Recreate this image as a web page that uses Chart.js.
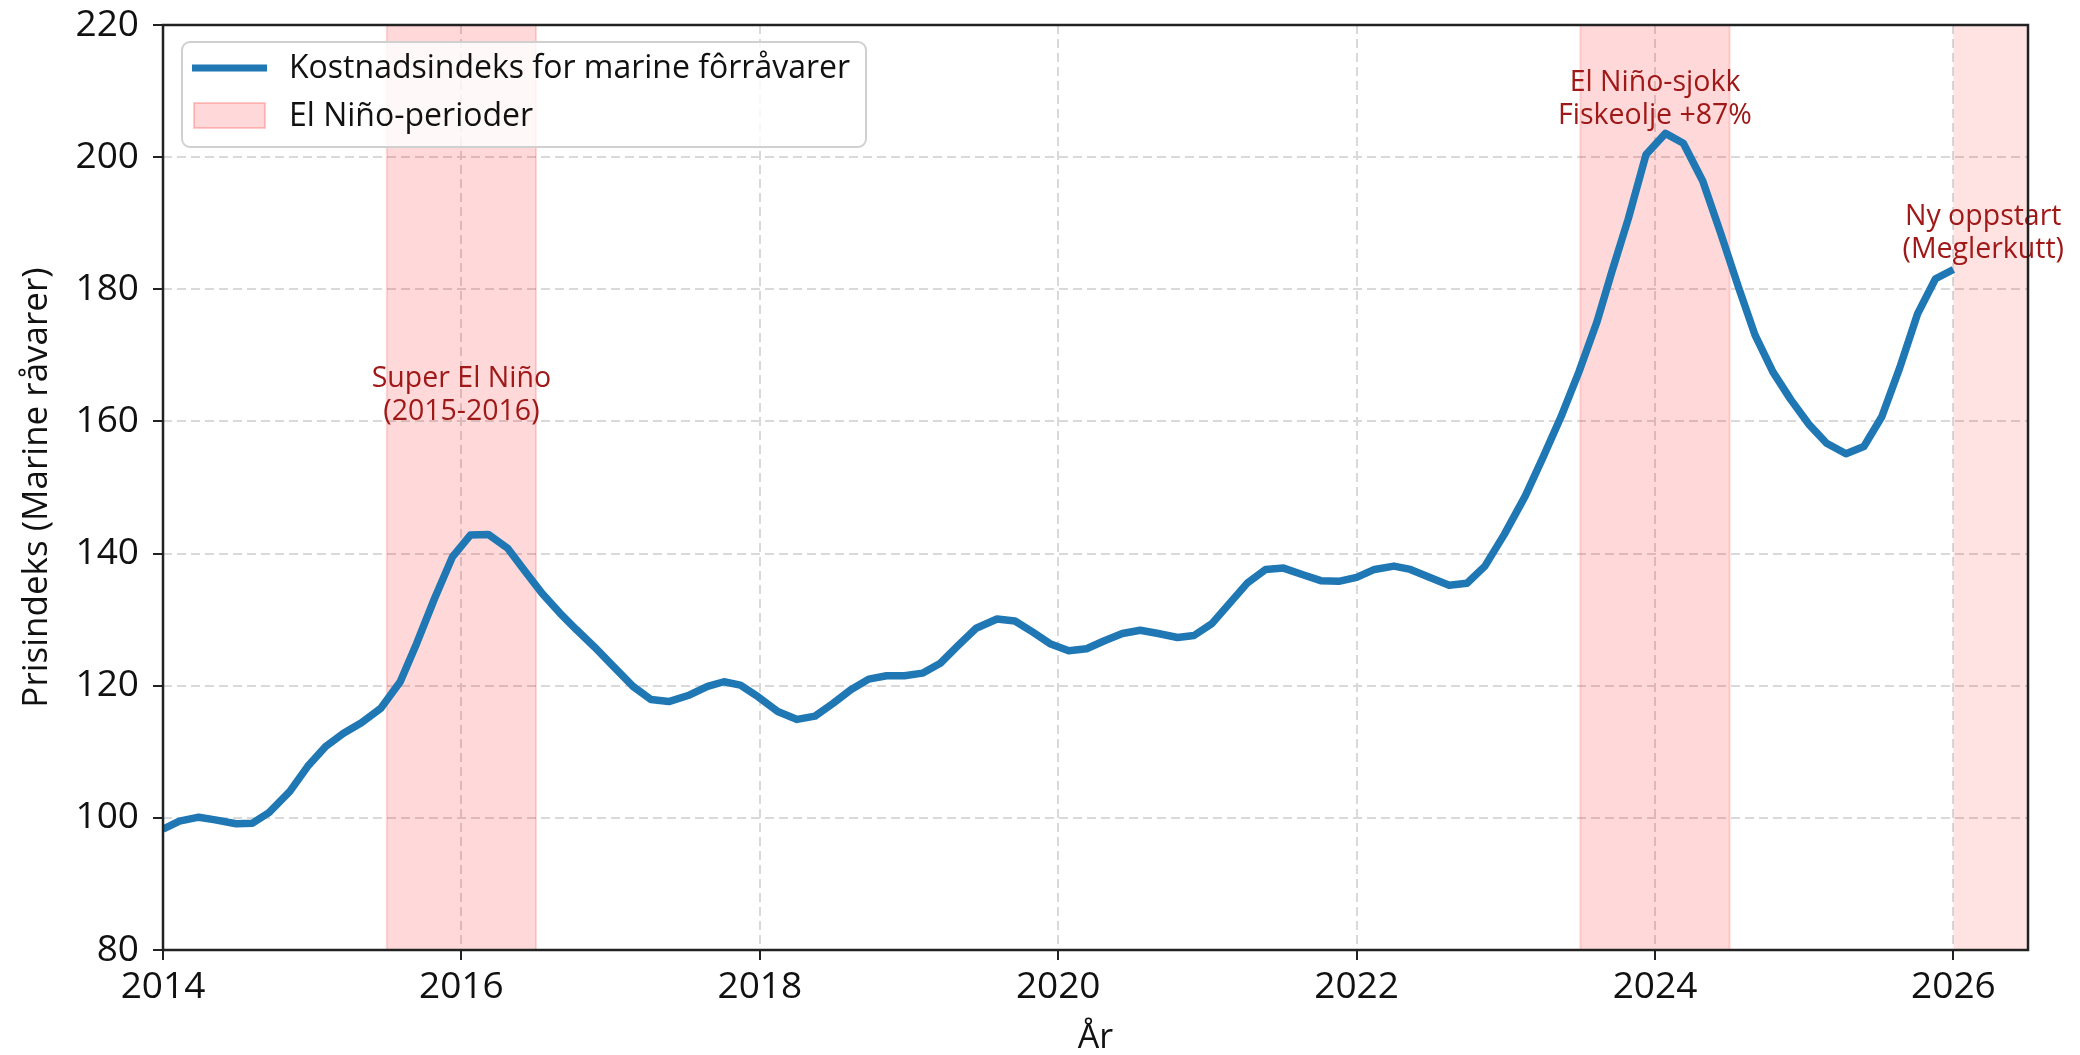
<!DOCTYPE html>
<html>
<head>
<meta charset="utf-8">
<script src="https://cdn.jsdelivr.net/npm/chart.js@4.4.1/dist/chart.umd.min.js"></script>
<style>
  html, body { margin: 0; padding: 0; background: #fff; }
</style>
</head>
<body>
<canvas id="feedChart" width="2080" height="1055"></canvas>
<script>
// Year positions of the plotted points
const years = [
  2014.00, 2014.11, 2014.24, 2014.35, 2014.49, 2014.60, 2014.71, 2014.85, 2014.97,
  2015.09, 2015.21, 2015.33, 2015.46, 2015.59, 2015.70, 2015.82, 2015.94,
  2016.06, 2016.18, 2016.31, 2016.42, 2016.54, 2016.66, 2016.77, 2016.89,
  2017.02, 2017.15, 2017.27, 2017.39, 2017.53, 2017.65, 2017.76, 2017.87, 2017.99,
  2018.12, 2018.25, 2018.37, 2018.49, 2018.61, 2018.73, 2018.85, 2018.97,
  2019.09, 2019.21, 2019.33, 2019.45, 2019.59, 2019.71, 2019.83, 2019.95,
  2020.07, 2020.19, 2020.31, 2020.43, 2020.55, 2020.67, 2020.80, 2020.91,
  2021.03, 2021.15, 2021.27, 2021.39, 2021.51, 2021.64, 2021.76, 2021.88,
  2022.00, 2022.12, 2022.25, 2022.36, 2022.50, 2022.62, 2022.74, 2022.86, 2022.99,
  2023.13, 2023.25, 2023.37, 2023.49, 2023.61, 2023.71, 2023.82, 2023.94,
  2024.07, 2024.19, 2024.32, 2024.44, 2024.56, 2024.67, 2024.79, 2024.91,
  2025.03, 2025.15, 2025.28, 2025.40, 2025.52, 2025.64, 2025.76, 2025.88, 2026.00
];

// Cost index for marine feed raw materials
const costIndex = [
  98.3, 99.5, 100.1, 99.7, 99.1, 99.2, 100.8, 104.0, 107.8,
  110.8, 112.8, 114.4, 116.6, 120.6, 126.4, 133.2, 139.5,
  142.8, 142.9, 140.8, 137.5, 134.0, 131.0, 128.5, 125.9,
  122.9, 119.9, 117.9, 117.6, 118.6, 119.9, 120.6, 120.1, 118.3,
  116.1, 114.9, 115.4, 117.3, 119.4, 121.0, 121.5, 121.5,
  121.9, 123.4, 126.1, 128.7, 130.1, 129.8, 128.1, 126.3,
  125.3, 125.6, 126.8, 127.9, 128.4, 127.9, 127.3, 127.6,
  129.4, 132.5, 135.6, 137.6, 137.8, 136.8, 135.9, 135.8,
  136.4, 137.6, 138.1, 137.6, 136.3, 135.2, 135.5, 138.1, 142.9,
  148.7, 154.6, 160.7, 167.5, 175.0, 182.6, 190.6, 200.4,
  203.6, 202.1, 196.4, 188.5, 180.3, 173.1, 167.5, 163.3,
  159.6, 156.7, 155.1, 156.2, 160.7, 168.1, 176.3, 181.6, 183.0
];

// El Niño periods (start, end) and the open-ended one at the right edge
const ninoStarts = [2015.5, 2023.5];
const ninoEnds = [2016.5, 2024.5];
const openStart = 2026.0;
const openEnd = 2026.5;

const xTicks = [2014, 2016, 2018, 2020, 2022, 2024, 2026];
const yTicks = [80, 100, 120, 140, 160, 180, 200, 220];

// Annotation texts
const noteX = [2016.0, 2024.0, 2026.2];
const noteY = [164.0, 208.8, 188.4];
const noteLines = [
  ['Super El Niño', '(2015-2016)'],
  ['El Niño-sjokk', 'Fiskeolje +87%'],
  ['Ny oppstart', '(Meglerkutt)']
];

const seriesLabel = 'Kostnadsindeks for marine fôrråvarer';
const bandLabel = 'El Niño-perioder';

const FONT = '"Open Sans", Lato, sans-serif';
const LINE_BLUE = '#1f77b4';
const NOTE_RED = '#a01919';

// Shaded periods, drawn under the line
const bandsPlugin = {
  id: 'bands',
  beforeDatasetsDraw(chart) {
    const { ctx, chartArea, scales } = chart;
    const x = scales.x;
    ctx.save();
    ctx.beginPath();
    ctx.rect(chartArea.left, chartArea.top, chartArea.width, chartArea.height);
    ctx.clip();
    ninoStarts.forEach((s, i) => {
      const x0 = x.getPixelForValue(s);
      const x1 = x.getPixelForValue(ninoEnds[i]);
      ctx.fillStyle = 'rgba(255, 0, 0, 0.15)';
      ctx.fillRect(x0, chartArea.top, x1 - x0, chartArea.height);
      ctx.strokeStyle = 'rgba(255, 0, 0, 0.15)';
      ctx.lineWidth = 2;
      ctx.strokeRect(x0, chartArea.top, x1 - x0, chartArea.height);
    });
    const o0 = x.getPixelForValue(openStart);
    const o1 = x.getPixelForValue(openEnd);
    ctx.fillStyle = 'rgba(255, 0, 0, 0.11)';
    ctx.fillRect(o0, chartArea.top, o1 - o0, chartArea.height);
    ctx.restore();
  }
};

// Frame, annotations and legend on top
const overlayPlugin = {
  id: 'overlay',
  afterDraw(chart) {
    const { ctx, chartArea, scales } = chart;
    ctx.save();

    // annotations
    ctx.fillStyle = NOTE_RED;
    ctx.font = '28.5px ' + FONT;
    ctx.textAlign = 'center';
    ctx.textBaseline = 'middle';
    noteLines.forEach((lines, i) => {
      const cx = scales.x.getPixelForValue(noteX[i]);
      const cy = scales.y.getPixelForValue(noteY[i]);
      const lh = 33;
      lines.forEach((t, j) => {
        ctx.fillText(t, cx, cy + (j - (lines.length - 1) / 2) * lh);
      });
    });

    // frame
    ctx.strokeStyle = '#222';
    ctx.lineWidth = 2.5;
    ctx.strokeRect(chartArea.left, chartArea.top, chartArea.width, chartArea.height);

    // legend
    const lx = chartArea.left + 19;
    const ly = chartArea.top + 17;
    ctx.beginPath();
    ctx.roundRect(lx, ly, 684, 105, 8);
    ctx.fillStyle = 'rgba(255, 255, 255, 0.8)';
    ctx.fill();
    ctx.strokeStyle = '#d0d0d0';
    ctx.lineWidth = 2;
    ctx.stroke();

    ctx.beginPath();
    ctx.moveTo(lx + 10, ly + 26);
    ctx.lineTo(lx + 85, ly + 26);
    ctx.strokeStyle = LINE_BLUE;
    ctx.lineWidth = 7;
    ctx.stroke();

    ctx.fillStyle = 'rgba(255, 0, 0, 0.15)';
    ctx.fillRect(lx + 12, ly + 61, 71, 25);
    ctx.strokeStyle = 'rgba(255, 0, 0, 0.2)';
    ctx.lineWidth = 2;
    ctx.strokeRect(lx + 12, ly + 61, 71, 25);

    ctx.fillStyle = '#111';
    ctx.font = '32px ' + FONT;
    ctx.textAlign = 'left';
    ctx.textBaseline = 'middle';
    ctx.fillText(seriesLabel, lx + 107, ly + 27);
    ctx.fillText(bandLabel, lx + 107, ly + 75);

    ctx.restore();
  }
};

const chart = new Chart(document.getElementById('feedChart'), {
  type: 'line',
  data: {
    datasets: [{
      label: seriesLabel,
      data: years.map((x, i) => ({ x: x, y: costIndex[i] })),
      borderColor: LINE_BLUE,
      borderWidth: 7.5,
      borderJoinStyle: 'round',
      pointRadius: 0,
      tension: 0,
      fill: false
    }]
  },
  options: {
    responsive: false,
    devicePixelRatio: 1,
    animation: false,
    layout: { padding: { left: 0, right: 52, top: 25, bottom: 0 } },
    plugins: {
      legend: { display: false },
      tooltip: { enabled: false }
    },
    scales: {
      x: {
        type: 'linear',
        min: 2014,
        max: 2026.5,
        afterBuildTicks: (scale) => { scale.ticks = xTicks.map(v => ({ value: v })); },
        afterFit: (scale) => {
          scale.height = 105;
          scale.paddingLeft = 0;
          scale.paddingRight = 0;
        },
        ticks: {
          color: '#111',
          font: { family: FONT, size: 37 },
          padding: 5,
          maxRotation: 0,
          callback: (v) => String(v)
        },
        grid: {
          color: '#d9d9d9',
          lineWidth: 2,
          tickLength: 10,
          tickColor: '#222',
          tickWidth: 2
        },
        border: { display: false, dash: [9, 5] },
        title: {
          display: true,
          text: 'År',
          color: '#111',
          font: { family: FONT, size: 34, lineHeight: 1 },
          padding: { top: 0, bottom: 0 }
        }
      },
      y: {
        min: 80,
        max: 220,
        afterBuildTicks: (scale) => { scale.ticks = yTicks.map(v => ({ value: v })); },
        afterFit: (scale) => {
          scale.width = 163;
          scale.paddingTop = 0;
          scale.paddingBottom = 0;
        },
        ticks: {
          color: '#111',
          font: { family: FONT, size: 37 },
          padding: 14
        },
        grid: {
          color: '#d9d9d9',
          lineWidth: 2,
          tickLength: 10,
          tickColor: '#222',
          tickWidth: 2
        },
        border: { display: false, dash: [9, 5] },
        title: {
          display: true,
          text: 'Prisindeks (Marine råvarer)',
          color: '#111',
          font: { family: FONT, size: 35, lineHeight: 1 },
          padding: { top: 20, bottom: 0 }
        }
      }
    }
  },
  plugins: [bandsPlugin, overlayPlugin]
});
</script>
</body>
</html>
